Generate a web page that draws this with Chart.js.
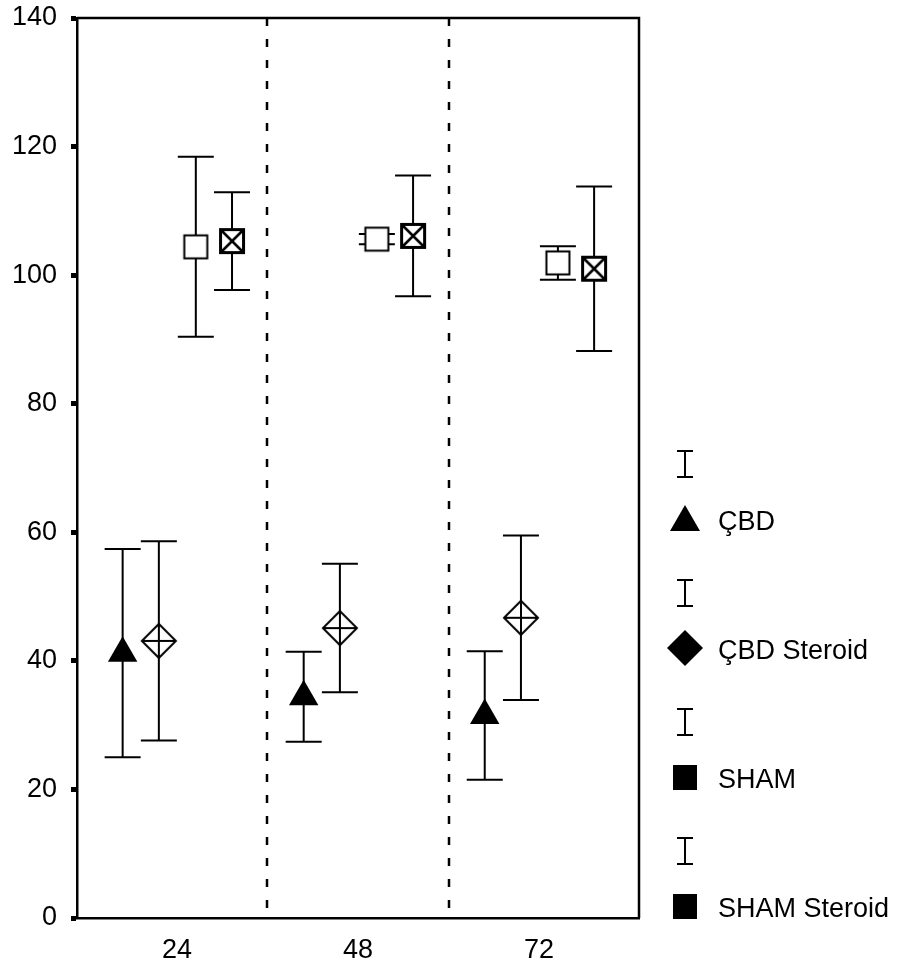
<!DOCTYPE html>
<html>
<head>
<meta charset="utf-8">
<script src="https://cdn.jsdelivr.net/npm/chart.js@4.4.1/dist/chart.umd.min.js"></script>
<style>
  html, body { margin: 0; padding: 0; background: #fff; }
  #wrap { width: 904px; height: 969px; }
</style>
</head>
<body>
<div id="wrap"><canvas id="chart" width="904" height="969"></canvas></div>
<script>
// saat (x ekseni) ve y ekseni etiketleri
var hours = [24, 48, 72];
var yTicks = [0, 20, 40, 60, 80, 100, 120, 140];
var groupSplits = [36, 60];

var seriesNames = ['ÇBD', 'ÇBD Steroid', 'SHAM', 'SHAM Steroid'];

// ortalama ve hata çubuğu (yarım uzunluk)
var cbdMean = [41.2, 34.4, 31.5];
var cbdErr = [16.2, 7.0, 10.0];
var cbdSteroidMean = [43.1, 45.1, 46.7];
var cbdSteroidErr = [15.5, 10.0, 12.8];
var shamMean = [104.4, 105.6, 101.9];
var shamErr = [14.0, 0.8, 2.6];
var shamSteroidMean = [105.3, 106.1, 101.0];
var shamSteroidErr = [7.6, 9.4, 12.8];

// grup içinde serilerin yatay kayması (saat biriminde)
var seriesShift = [-7.2, -2.4, 2.5, 7.3];

var FONT = {family: "'Liberation Sans', Arial, sans-serif", size: 27};

// işaretçi resimleri
function makeMarker(kind) {
    var c = document.createElement('canvas');
    c.width = 40;
    c.height = 40;
    var g = c.getContext('2d');
    var m = 20;
    g.strokeStyle = '#000';
    g.fillStyle = '#fff';
    if (kind === 'diamondPlus') {
        var r = 17;
        g.lineWidth = 2;
        g.beginPath();
        g.moveTo(m, m - r); g.lineTo(m + r, m); g.lineTo(m, m + r); g.lineTo(m - r, m);
        g.closePath();
        g.fill();
        g.stroke();
        g.beginPath();
        g.moveTo(m - r, m); g.lineTo(m + r, m);
        g.moveTo(m, m - r); g.lineTo(m, m + r);
        g.stroke();
    } else if (kind === 'square') {
        g.lineWidth = 2;
        g.fillRect(m - 11.5, m - 11.5, 23, 23);
        g.strokeRect(m - 11.5, m - 11.5, 23, 23);
    } else if (kind === 'squareX') {
        g.fillRect(m - 11.5, m - 11.5, 23, 23);
        g.lineWidth = 2.5;
        g.beginPath();
        g.moveTo(m - 11.5, m - 11.5); g.lineTo(m + 11.5, m + 11.5);
        g.moveTo(m + 11.5, m - 11.5); g.lineTo(m - 11.5, m + 11.5);
        g.stroke();
        g.lineWidth = 3;
        g.strokeRect(m - 11.5, m - 11.5, 23, 23);
    }
    return c;
}

function points(means, s) {
    return hours.map(function (h, i) {
        return {x: h + seriesShift[s], y: means[i]};
    });
}

var datasets = [
    {label: seriesNames[0], data: points(cbdMean, 0), errors: cbdErr,
        pointStyle: 'triangle', pointRadius: 17, backgroundColor: '#000', borderWidth: 0},
    {label: seriesNames[1], data: points(cbdSteroidMean, 1), errors: cbdSteroidErr,
        pointStyle: makeMarker('diamondPlus'), pointRadius: 17},
    {label: seriesNames[2], data: points(shamMean, 2), errors: shamErr,
        pointStyle: makeMarker('square'), pointRadius: 17},
    {label: seriesNames[3], data: points(shamSteroidMean, 3), errors: shamSteroidErr,
        pointStyle: makeMarker('squareX'), pointRadius: 17}
];

// kesikli ayırıcılar + hata çubukları
var behindMarks = {
    id: 'behindMarks',
    beforeDatasetsDraw: function (chart) {
        var ctx = chart.ctx, area = chart.chartArea;
        var xs = chart.scales.x, ys = chart.scales.y;
        ctx.save();
        ctx.strokeStyle = '#000';
        ctx.lineWidth = 2.5;
        ctx.setLineDash([8, 13]);
        groupSplits.forEach(function (v) {
            var px = Math.round(xs.getPixelForValue(v));
            ctx.beginPath();
            ctx.moveTo(px, area.top);
            ctx.lineTo(px, area.bottom);
            ctx.stroke();
        });
        ctx.setLineDash([]);
        ctx.lineWidth = 2;
        chart.data.datasets.forEach(function (ds, di) {
            var meta = chart.getDatasetMeta(di);
            ds.data.forEach(function (p, i) {
                var px = meta.data[i].x;
                var top = ys.getPixelForValue(p.y + ds.errors[i]);
                var bot = ys.getPixelForValue(p.y - ds.errors[i]);
                ctx.beginPath();
                ctx.moveTo(px, top); ctx.lineTo(px, bot);
                ctx.moveTo(px - 18, top); ctx.lineTo(px + 18, top);
                ctx.moveTo(px - 18, bot); ctx.lineTo(px + 18, bot);
                ctx.stroke();
            });
        });
        ctx.restore();
    }
};

// üst ve sağ çerçeve + sağdaki açıklama
var frameAndLegend = {
    id: 'frameAndLegend',
    afterDraw: function (chart) {
        var ctx = chart.ctx, area = chart.chartArea;
        ctx.save();
        ctx.strokeStyle = '#000';
        ctx.lineWidth = 2.5;
        ctx.beginPath();
        ctx.moveTo(area.left, area.top);
        ctx.lineTo(area.right, area.top);
        ctx.lineTo(area.right, area.bottom);
        ctx.stroke();

        var cx = 685, startY = 519, step = 129;
        ctx.fillStyle = '#000';
        ctx.font = FONT.size + 'px ' + FONT.family;
        ctx.textAlign = 'left';
        ctx.textBaseline = 'alphabetic';
        seriesNames.forEach(function (name, i) {
            var my = startY + i * step;
            var by = my - 55;
            ctx.lineWidth = 2;
            ctx.beginPath();
            ctx.moveTo(cx, by - 13); ctx.lineTo(cx, by + 13);
            ctx.moveTo(cx - 8, by - 13); ctx.lineTo(cx + 8, by - 13);
            ctx.moveTo(cx - 8, by + 13); ctx.lineTo(cx + 8, by + 13);
            ctx.stroke();
            ctx.beginPath();
            if (i === 0) {
                ctx.moveTo(cx, my - 14); ctx.lineTo(cx + 15, my + 12); ctx.lineTo(cx - 15, my + 12);
            } else if (i === 1) {
                ctx.moveTo(cx, my - 18); ctx.lineTo(cx + 18, my); ctx.lineTo(cx, my + 18); ctx.lineTo(cx - 18, my);
            } else {
                ctx.rect(cx - 12, my - 12, 24, 25);
            }
            ctx.closePath();
            ctx.fill();
            ctx.fillText(name, 718, my + 11);
        });
        ctx.restore();
    }
};

new Chart(document.getElementById('chart'), {
    type: 'scatter',
    data: {datasets: datasets},
    options: {
        responsive: false,
        animation: false,
        devicePixelRatio: 1,
        events: [],
        layout: {padding: {top: 14, right: 265, left: 0, bottom: 0}},
        plugins: {legend: {display: false}, tooltip: {enabled: false}},
        scales: {
            x: {
                type: 'linear',
                min: 10.75,
                max: 85.25,
                afterBuildTicks: function (s) {
                    s.ticks = hours.map(function (v) { return {value: v}; });
                },
                afterFit: function (s) {
                    s.height = 51;
                    s.paddingLeft = 0;
                    s.paddingRight = 0;
                },
                grid: {drawOnChartArea: false, drawTicks: false},
                border: {color: '#000', width: 2.5},
                ticks: {color: '#000', font: FONT, padding: 16, maxRotation: 0}
            },
            y: {
                min: 0,
                max: 140,
                afterBuildTicks: function (s) {
                    s.ticks = yTicks.map(function (v) { return {value: v}; });
                },
                afterFit: function (s) {
                    s.width = 77;
                    s.paddingTop = 0;
                    s.paddingBottom = 0;
                },
                grid: {drawOnChartArea: false, tickLength: 6, tickWidth: 5, tickColor: '#000'},
                border: {color: '#000', width: 2.5},
                ticks: {color: '#000', font: FONT, padding: 14}
            }
        }
    },
    plugins: [behindMarks, frameAndLegend]
});
</script>
</body>
</html>
